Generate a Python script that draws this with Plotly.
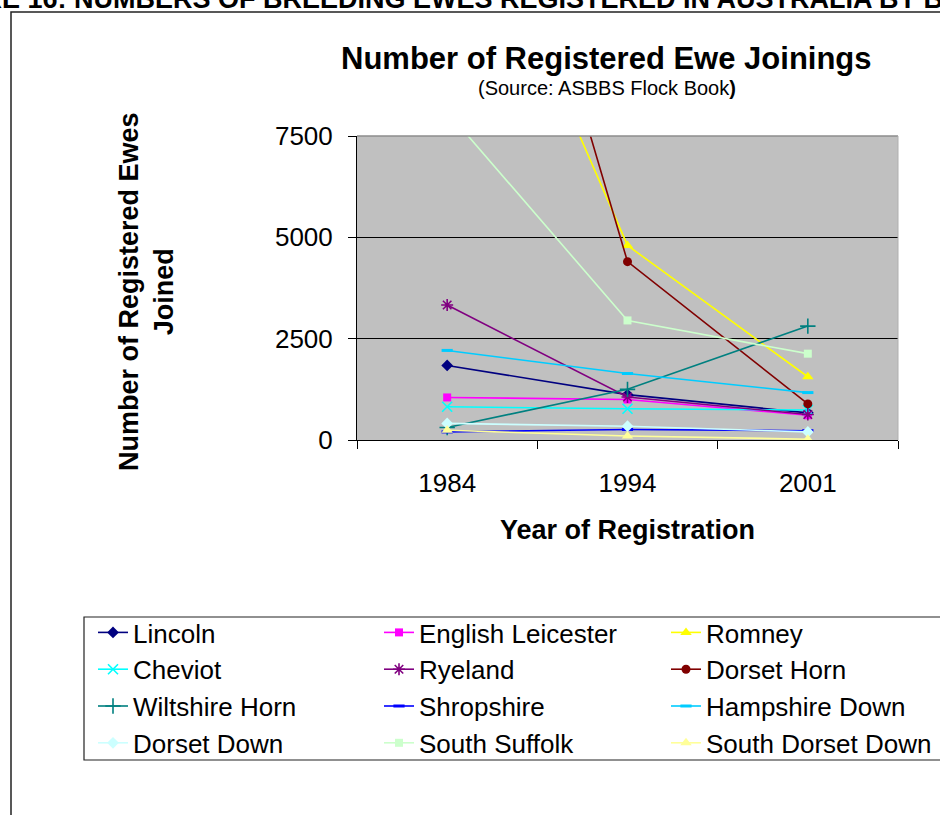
import plotly.graph_objects as go

# Registration years (category axis)
years = ["1984", "1994", "2001"]

# Registered ewes joined, per breed, for 1984 / 1994 / 2001
lincoln = [1840, 1120, 670]
english_leicester = [1050, 1000, 610]
romney = [15000, 4800, 1560]
cheviot = [820, 770, 740]
ryeland = [3330, 1060, 630]
dorset_horn = [19500, 4400, 890]
wiltshire_horn = [310, 1250, 2810]
shropshire = [200, 260, 230]
hampshire_down = [2210, 1640, 1170]
dorset_down = [410, 340, 200]
south_suffolk = [8100, 2950, 2130]
south_dorset_down = [240, 100, 20]

breed_names = [
    "Lincoln", "English Leicester", "Romney",
    "Cheviot", "Ryeland", "Dorset Horn",
    "Wiltshire Horn", "Shropshire", "Hampshire Down",
    "Dorset Down", "South Suffolk", "South Dorset Down",
]
breed_values = [
    lincoln, english_leicester, romney,
    cheviot, ryeland, dorset_horn,
    wiltshire_horn, shropshire, hampshire_down,
    dorset_down, south_suffolk, south_dorset_down,
]

# Line colour, marker symbol, marker size (classic spreadsheet palette)
styles = [
    ("#000080", "diamond", 9),
    ("#FF00FF", "square", 8),
    ("#FFFF00", "triangle-up", 10),
    ("#00FFFF", "x-thin-open", 10),
    ("#800080", "asterisk-open", 10),
    ("#800000", "circle", 9),
    ("#008080", "cross-thin-open", 11),
    ("#0000FF", "line-ew-open", 8),
    ("#00CCFF", "line-ew-open", 8),
    ("#CCFFFF", "diamond", 9),
    ("#CCFFCC", "square", 8),
    ("#FFFF99", "triangle-up", 10),
]

FONT = "Liberation Sans, Arial, sans-serif"
W, H = 940, 815
PL, PR, PT, PB = 357, 898, 136, 440  # plot area in page pixels


def px_x(px):
    return (px - PL) / (PR - PL)


def px_y(py):
    return (PB - py) / (PB - PT)


legend_ids = ["legend", "legend2", "legend3"]

fig = go.Figure()
for i, (name, vals) in enumerate(zip(breed_names, breed_values)):
    color, symbol, size = styles[i]
    open_sym = symbol.endswith("-open")
    fig.add_trace(go.Scatter(
        x=years, y=vals, name=name, mode="lines+markers",
        line=dict(color=color, width=1.6),
        marker=dict(
            symbol=symbol, size=size, color=color,
            line=dict(color=color, width=3 if symbol.startswith("line") else (1.6 if open_sym else 0)),
        ),
        legend=legend_ids[i % 3],
    ))

legend_common = dict(
    font=dict(family=FONT, size=26, color="black"),
    bgcolor="rgba(0,0,0,0)", borderwidth=0,
    orientation="v", xanchor="left", yanchor="top",
    y=px_y(609), traceorder="normal",
)

fig.update_layout(
    width=W, height=H,
    margin=dict(l=PL, r=W - PR, t=PT, b=H - PB, autoexpand=False),
    paper_bgcolor="white",
    plot_bgcolor="#C0C0C0",
    font=dict(family=FONT, color="black"),
    showlegend=True,
    legend=dict(legend_common, x=px_x(93)),
    legend2=dict(legend_common, x=px_x(379)),
    legend3=dict(legend_common, x=px_x(666)),
    xaxis=dict(
        type="category", range=[-0.5, 2.5],
        showline=True, linecolor="black", linewidth=1,
        ticks="outside", tickson="boundaries", ticklen=8, tickcolor="black",
        tickfont=dict(family=FONT, size=26), ticklabelstandoff=20,
        showgrid=False, zeroline=False, fixedrange=True,
    ),
    yaxis=dict(
        range=[0, 7500], tickvals=[0, 2500, 5000, 7500],
        ticktext=["0", "2500", "5000", "7500"],
        showline=True, linecolor="black", linewidth=1,
        ticks="outside", ticklen=8, tickcolor="black",
        tickfont=dict(family=FONT, size=26), ticklabelstandoff=10,
        showgrid=True, gridcolor="black", gridwidth=1,
        zeroline=False, fixedrange=True,
    ),
)

shapes = [
    # outer chart frame (runs past the page edges)
    dict(type="rect", xref="paper", yref="paper",
         x0=px_x(11), x1=px_x(960), y0=px_y(12), y1=px_y(840),
         line=dict(color="#222222", width=1.5), fillcolor="rgba(0,0,0,0)", layer="below"),
    # legend box
    dict(type="rect", xref="paper", yref="paper",
         x0=px_x(84), x1=px_x(960), y0=px_y(617), y1=px_y(760),
         line=dict(color="#222222", width=1.2), fillcolor="rgba(0,0,0,0)", layer="below"),
    # plot area top border
    dict(type="line", xref="paper", yref="paper", x0=0, x1=1, y0=1, y1=1,
         line=dict(color="#8C8C8C", width=1.5), layer="above"),
    # plot area right border
    dict(type="line", xref="paper", yref="paper", x0=1, x1=1, y0=0, y1=1,
         line=dict(color="#B0B0B0", width=1), layer="above"),
]

annotations = [
    dict(text="<b>FIGURE 16: NUMBERS OF BREEDING EWES REGISTERED IN AUSTRALIA BY BREED</b>",
         xref="paper", yref="paper", x=px_x(-84), y=px_y(-1.5),
         xanchor="left", yanchor="middle", showarrow=False,
         font=dict(family=FONT, size=27)),
    dict(text="<b>Number of Registered Ewe Joinings</b>",
         xref="paper", yref="paper", x=px_x(606), y=px_y(58),
         xanchor="center", yanchor="middle", showarrow=False,
         font=dict(family=FONT, size=31)),
    dict(text="(Source: ASBBS Flock Book<b>)</b>",
         xref="paper", yref="paper", x=px_x(607), y=px_y(88),
         xanchor="center", yanchor="middle", showarrow=False,
         font=dict(family=FONT, size=20)),
    dict(text="<b>Year of Registration</b>",
         xref="paper", yref="paper", x=px_x(627), y=px_y(530),
         xanchor="center", yanchor="middle", showarrow=False,
         font=dict(family=FONT, size=27)),
    dict(text="<b>Number of Registered Ewes<br>Joined</b>",
         xref="paper", yref="paper", x=px_x(146), y=px_y(292),
         xanchor="center", yanchor="middle", showarrow=False, textangle=-90,
         font=dict(family=FONT, size=27)),
]

fig.update_layout(shapes=shapes, annotations=annotations)

fig.write_html("out.html", config={"displayModeBar": False})
